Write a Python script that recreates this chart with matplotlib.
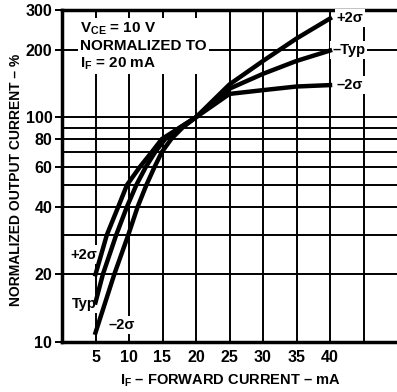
import matplotlib.pyplot as plt
from matplotlib.ticker import FixedLocator, NullLocator, NullFormatter

# Forward current (mA) and normalized output current (%)
plus_2s_if = [5, 6.7, 8.4, 9.7, 11.6, 13.4, 14.9, 17.6, 20, 25, 30, 35, 40]
plus_2s = [20, 30, 40, 50, 60, 70, 80, 90, 100, 140, 178, 224, 275]
typ_if = [5, 6.1, 8.1, 9.7, 11.1, 12.5, 13.9, 15.4, 17.6, 20, 25, 30, 35, 40]
typ = [15, 20, 30, 40, 50, 60, 70, 80, 90, 100, 134, 156, 178, 198]
minus_2s_if = [5, 7.8, 9.9, 11.3, 12.6, 13.8, 14.9, 16.3, 18.0, 20, 25, 30, 35, 40]
minus_2s = [11, 20, 30, 40, 50, 60, 70, 80, 90, 100, 127, 132, 137, 139]

x_ticks = [5, 10, 15, 20, 25, 30, 35, 40]
x_grid = [5, 10, 15, 20, 25, 30, 35, 40, 45]
y_ticks = [10, 20, 40, 60, 80, 100, 200, 300]
y_grid = [20, 30, 40, 50, 60, 70, 80, 90, 100, 200]

plt.rcParams['font.family'] = ['Liberation Sans', 'DejaVu Sans']
plt.rcParams['font.weight'] = 'bold'
plt.rcParams['mathtext.fontset'] = 'custom'
plt.rcParams['mathtext.rm'] = 'Liberation Sans:bold'

fs = 10.5

fig = plt.figure(figsize=(3.97, 3.92), dpi=100)
ax = fig.add_axes([62 / 397, 50 / 392, 1 - 62 / 397, 332 / 392])

ax.set_yscale('log')
ax.set_xlim(0, 50)
ax.set_ylim(10, 300)

for x in x_grid:
    ax.axvline(x, color='black', lw=1.4, zorder=1)
for y in y_grid:
    ax.axhline(y, color='black', lw=1.4, zorder=1)

ax.plot(plus_2s_if, plus_2s, color='black', lw=3.2, zorder=5)
ax.plot(typ_if, typ, color='black', lw=3.2, zorder=5)
ax.plot(minus_2s_if, minus_2s, color='black', lw=3.2, zorder=5)

ax.xaxis.set_major_locator(FixedLocator(x_ticks))
ax.set_xticklabels([str(v) for v in x_ticks])
ax.yaxis.set_major_locator(FixedLocator(y_ticks))
ax.yaxis.set_minor_locator(NullLocator())
ax.yaxis.set_minor_formatter(NullFormatter())
ax.set_yticklabels([str(v) for v in y_ticks])
ax.tick_params(axis='x', length=0, pad=6, labelsize=fs + 1)
ax.tick_params(axis='y', length=5, width=1.4, pad=2, labelsize=fs + 1)

for side in ['left', 'bottom', 'top']:
    ax.spines[side].set_linewidth(2.5)
ax.spines['right'].set_visible(False)

box = dict(facecolor='white', edgecolor='none', pad=1.5)
ax.text(2.7, 270, '$\\mathregular{V_{CE}}$ = 10 V\nNORMALIZED TO\n$\\mathregular{I_F}$ = 20 mA',
        fontsize=fs + 0.5, va='top', ha='left', linespacing=1.2, bbox=box, zorder=4)

ax.text(41.0, 276, '+2σ', fontsize=fs, va='center', ha='left', bbox=box, zorder=4)
ax.text(40.3, 199, '–Typ', fontsize=fs, va='center', ha='left', bbox=box, zorder=4)
ax.text(41.0, 139, '–2σ', fontsize=fs, va='center', ha='left', bbox=box, zorder=4)

ax.text(1.2, 24.5, '+2σ', fontsize=fs, va='center', ha='left', bbox=box, zorder=4)
ax.text(1.4, 14.8, 'Typ', fontsize=fs, va='center', ha='left', bbox=box, zorder=4)
ax.text(7.0, 11.9, '–2σ', fontsize=fs, va='center', ha='left', bbox=box, zorder=4)

fig.text(0.04, 0.54, 'NORMALIZED OUTPUT CURRENT – %', rotation=90,
         fontsize=fs - 0.5, ha='center', va='center')
fig.text(0.58, 0.028, '$\\mathregular{I_F}$ – FORWARD CURRENT – mA',
         fontsize=fs, ha='center', va='center')

fig.savefig('out.png', dpi=100)
